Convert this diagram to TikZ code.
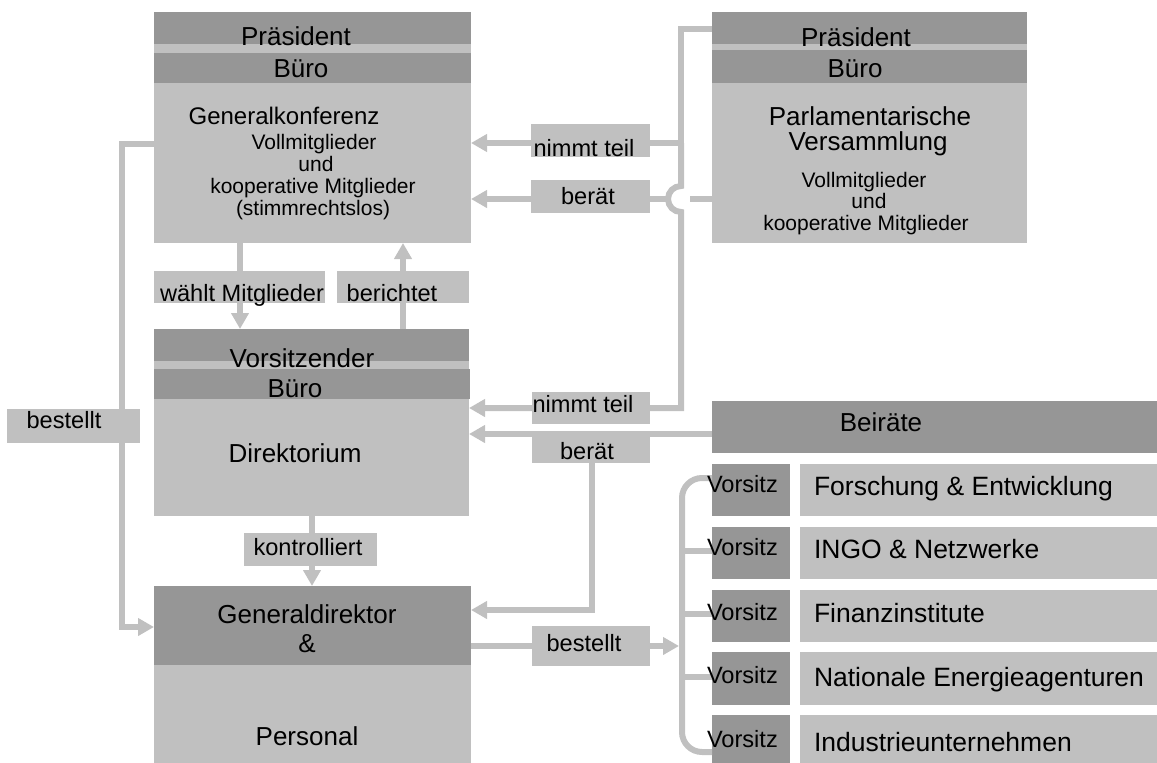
\documentclass[tikz,border=0pt]{standalone}
\usepackage{fontspec}
\setmainfont{Liberation Sans}
\usetikzlibrary{arrows.meta}
\definecolor{dk}{HTML}{969696}
\definecolor{lt}{HTML}{C0C0C0}
\definecolor{ln}{HTML}{C0C0C0}
\newcommand\fBig{\fontsize{26}{28}\selectfont}
\newcommand\fMid{\fontsize{24}{26}\selectfont}
\newcommand\fLbl{\fontsize{23.6}{26}\selectfont}
\newcommand\fSub{\fontsize{21}{23}\selectfont}
\newcommand\fRow{\fontsize{26.5}{28}\selectfont}
\begin{document}
\begin{tikzpicture}[x=1pt,y=-1pt,
  box/.style={anchor=north west, inner sep=0pt, outer sep=0pt, draw=none},
  darkbox/.style={box, fill=dk},
  lightbox/.style={box, fill=lt},
  txt/.style={anchor=base, inner sep=0pt, outer sep=0pt, text=black},
  conn/.style={draw=ln, line width=6pt},
  arr/.style={conn, -{Triangle[length=16pt,width=17pt]}},
]
\useasboundingbox (0,0) rectangle (1157,763);

% ---------- boxes ----------
\node[lightbox, minimum width=317pt, minimum height=231pt] (GK) at (154,12) {};
\node[darkbox, minimum width=317pt, minimum height=32pt] (GKpres) at (154,12) {};
\node[darkbox, minimum width=317pt, minimum height=30pt] (GKburo) at (154,53) {};

\node[lightbox, minimum width=315pt, minimum height=231pt] (PV) at (712,12) {};
\node[darkbox, minimum width=315pt, minimum height=32pt] (PVpres) at (712,12) {};
\node[darkbox, minimum width=315pt, minimum height=33pt] (PVburo) at (712,50) {};

\node[lightbox, minimum width=315pt, minimum height=187pt] (DIR) at (154,329) {};
\node[darkbox, minimum width=315pt, minimum height=32pt] (DIRvors) at (154,329) {};
\node[darkbox, minimum width=316pt, minimum height=30pt] (DIRburo) at (154,369) {};

\node[darkbox, minimum width=317pt, minimum height=79pt] (GD) at (154,586) {};
\node[lightbox, minimum width=317pt, minimum height=98pt] (GDpers) at (154,665) {};

\node[darkbox, minimum width=445pt, minimum height=52pt] (BR) at (712,401) {};

\foreach \i/\y/\h in {1/464/52, 2/527/52, 3/590/52, 4/652/53, 5/715/48} {
  \node[darkbox, minimum width=78pt, minimum height=\h pt] (V\i) at (712,\y) {};
  \node[lightbox, minimum width=357pt, minimum height=\h pt] (N\i) at (800,\y) {};
}

% ---------- connectors ----------
\coordinate (bl1) at (122,144);
\coordinate (bl2) at (122,627);
\coordinate (vt) at (681,29);
\coordinate (vj) at (681,143);
\coordinate (vh) at (681,186);
\coordinate (vb) at (681,408);
\coordinate (bd) at (592,610);
\coordinate (brk) at (679,646);
\coordinate (bt) at (682,478);
\coordinate (bb) at (682,752);

\draw[arr] (GK.south -| 240,0) -- (DIR.north -| 240,0);
\draw[arr] (DIR.north -| 403,0) -- (GK.south -| 403,0);
\draw[arr] (DIR.south -| 312,0) -- (GD.north -| 312,0);
\draw[arr] (GK.west |- bl1) -- (bl1) -- (bl2) -- (GD.west |- bl2);
\draw[arr] (PVpres.west |- vt) -- (vt) -- (vj) -- (GK.east |- vj);
\draw[arr] (vj) -- (vh) arc[start angle=90, end angle=270, radius=13pt] -- (vb) -- (DIR.east |- vb);
\draw[conn] (PV.west |- 0,199) -- (690,199);
\draw[arr] (668,199) -- (GK.east |- 0,199);
\draw[arr] (BR.west |- 0,434) -- (DIR.east |- 0,434);
\draw[arr] (592,460) -- (bd) -- (GD.east |- bd);
\draw[arr] (GD.east |- brk) -- (brk);
\draw[conn, rounded corners=20pt] (V1.west |- bt) -- (bt) -- (bb) -- (V5.west |- bb);
\foreach \i/\y in {2/551, 3/614, 4/677} {
  \draw[conn] (682,\y) -- (V\i.west |- 0,\y);
}

% ---------- label boxes ----------
\node[lightbox, minimum width=119pt, minimum height=33pt] (LnGK) at (531,124) {};
\node[lightbox, minimum width=119pt, minimum height=33pt] (LbGK) at (531,180) {};
\node[lightbox, minimum width=171pt, minimum height=32pt] (Lw) at (154,271) {};
\node[lightbox, minimum width=132pt, minimum height=32pt] (Lber) at (337,271) {};
\node[lightbox, minimum width=133pt, minimum height=33pt] (Lk) at (244,533) {};
\node[lightbox, minimum width=133pt, minimum height=34pt] (LbL) at (7,409) {};
\node[lightbox, minimum width=118pt, minimum height=32pt] (LnD) at (532,392) {};
\node[lightbox, minimum width=118pt, minimum height=32pt] (LbD) at (532,431) {};
\node[lightbox, minimum width=118pt, minimum height=40pt] (LbR) at (532,626) {};

% ---------- texts ----------
\node[txt, font=\fBig] (t1) at (296,45) {Präsident};
\node[txt, font=\fBig] (t2) at (301,77) {Büro};
\node[txt, font=\fMid] (t3) at (284,124) {Generalkonferenz};
\node[txt, font=\fSub] (t4) at (314,149) {Vollmitglieder};
\node[txt, font=\fSub] (t5) at (316,171) {und};
\node[txt, font=\fSub] (t6) at (313,193) {kooperative Mitglieder};
\node[txt, font=\fSub] (t7) at (313,215) {(stimmrechtslos)};

\node[txt, font=\fBig] (p1) at (856,46) {Präsident};
\node[txt, font=\fBig] (p2) at (855,77) {Büro};
\node[txt, font=\fBig] (p3) at (870,125) {Parlamentarische};
\node[txt, font=\fBig] (p4) at (868,150) {Versammlung};
\node[txt, font=\fSub] (p5) at (864,187) {Vollmitglieder};
\node[txt, font=\fSub] (p6) at (869,208) {und};
\node[txt, font=\fSub] (p7) at (866,230) {kooperative Mitglieder};

\node[txt, font=\fBig] (d1) at (302,367) {Vorsitzender};
\node[txt, font=\fBig] (d2) at (295,397) {Büro};
\node[txt, font=\fBig] (d3) at (295,462) {Direktorium};

\node[txt, font=\fBig] (g1) at (307,623) {Generaldirektor};
\node[txt, font=\fBig] (g2) at (307,652) {\&};
\node[txt, font=\fBig] (g3) at (307,745) {Personal};

\node[txt, font=\fBig] (b0) at (881,431) {Beiräte};

\foreach \i/\yv/\yn/\name in {1/492/495/Forschung \& Entwicklung, 2/555/558/INGO \& Netzwerke, 3/620/622/Finanzinstitute, 4/683/686/Nationale Energieagenturen, 5/747/751/Industrieunternehmen} {
  \node[txt, anchor=base west, font=\fLbl] (vt\i) at (707,\yv) {Vorsitz};
  \node[txt, anchor=base west, font=\fRow] (nt\i) at (814,\yn) {\name};
}

\node[txt, font=\fLbl] (l1) at (584,156) {nimmt teil};
\node[txt, font=\fLbl] (l2) at (588,204) {berät};
\node[txt, font=\fLbl] (l3) at (242,301) {wählt Mitglieder};
\node[txt, font=\fLbl] (l4) at (392,301) {berichtet};
\node[txt, font=\fLbl] (l5) at (308,555) {kontrolliert};
\node[txt, font=\fLbl] (l6) at (64,428) {bestellt};
\node[txt, font=\fLbl] (l7) at (583,412) {nimmt teil};
\node[txt, font=\fLbl] (l8) at (587,459) {berät};
\node[txt, font=\fLbl] (l9) at (584,651) {bestellt};
\end{tikzpicture}
\end{document}
